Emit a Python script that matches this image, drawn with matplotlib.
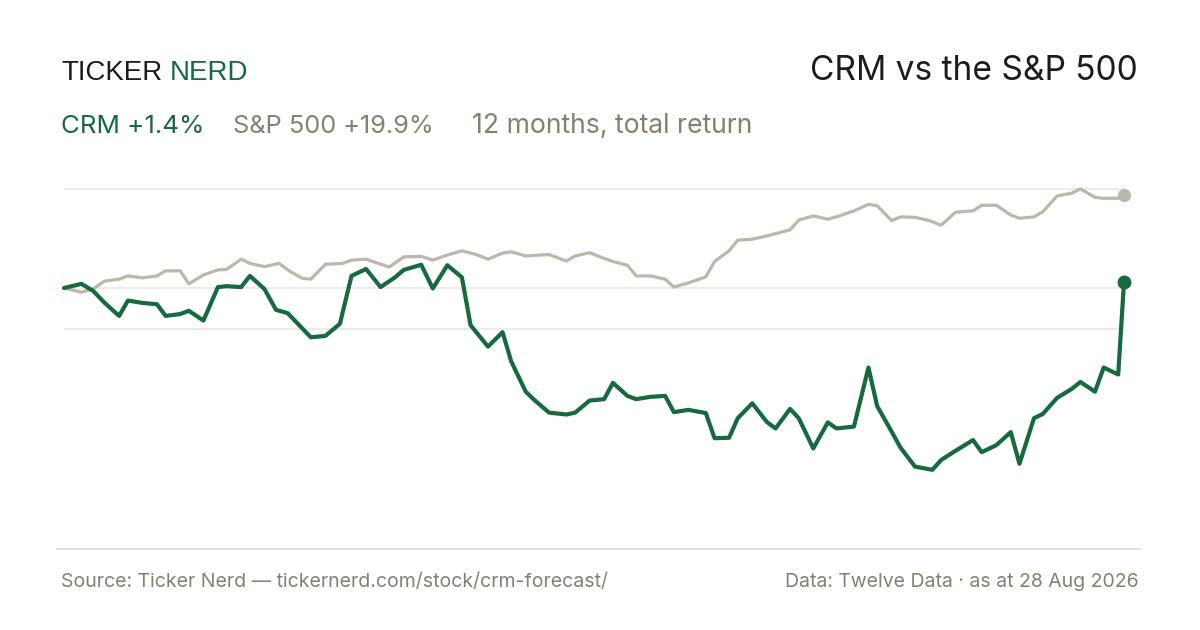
import matplotlib
matplotlib.use("Agg")
import matplotlib.pyplot as plt

# ---- data (day offset within the 12-month window, total return %) ----
crm_days = [0, 6, 10, 14, 19, 22, 27, 32, 35, 40, 43, 48, 53, 56, 61, 64, 69, 73, 77, 81,
            85, 90, 95, 99, 104, 109, 114, 117, 123, 127, 132, 137, 140, 146, 151, 154, 159,
            162, 167, 173, 176, 181, 186, 189, 194, 197, 202, 207, 210, 215, 221, 224, 229,
            232, 237, 242, 245, 250, 253, 258, 263, 266, 272, 277, 280, 285, 288, 293, 299,
            302, 307, 313, 316, 321, 326, 329, 334, 337, 342, 347, 350, 355, 358, 363, 365]
crm_ret = [0.0, 0.9, -0.6, -3.2, -6.0, -2.7, -3.2, -3.5, -6.0, -5.6, -4.9, -7.0, 0.2, 0.4,
           0.2, 2.6, -0.2, -4.7, -5.4, -8.0, -10.6, -10.3, -7.7, 2.6, 4.1, 0.2, 2.3, 3.9,
           5.0, -0.1, 4.9, 2.3, -8.0, -12.6, -9.5, -15.8, -22.3, -24.1, -26.8, -27.2, -26.8,
           -24.2, -23.9, -20.4, -23.2, -23.9, -23.4, -23.2, -26.7, -26.2, -26.9, -32.3,
           -32.2, -28.0, -24.8, -28.8, -30.2, -26.0, -28.0, -34.5, -28.9, -30.2, -29.8,
           -17.1, -25.4, -30.9, -34.3, -38.4, -39.1, -37.0, -35.0, -32.7, -35.3, -33.8,
           -31.0, -37.8, -28.0, -27.1, -23.6, -21.7, -20.2, -22.3, -17.1, -18.6, 1.4]

spx_days = [0, 6, 10, 14, 19, 22, 27, 32, 35, 40, 43, 48, 53, 56, 61, 64, 69, 74, 78, 82,
            85, 90, 96, 99, 104, 112, 117, 123, 127, 132, 137, 142, 146, 151, 154, 159, 167,
            173, 176, 181, 185, 189, 194, 197, 202, 207, 210, 215, 221, 224, 229, 232, 237,
            242, 250, 253, 258, 263, 267, 272, 277, 280, 285, 288, 293, 298, 302, 307, 313,
            316, 321, 326, 329, 334, 337, 342, 347, 350, 355, 358, 363, 365]
spx_ret = [0.0, -0.9, -0.2, 1.5, 1.9, 2.6, 2.2, 2.6, 3.7, 3.7, 0.9, 2.8, 3.9, 4.0, 6.2, 5.3,
           4.6, 5.3, 3.5, 2.1, 1.9, 5.1, 5.3, 6.0, 6.2, 4.5, 6.7, 6.8, 6.0, 7.1, 8.0, 7.2,
           6.2, 7.5, 7.8, 6.9, 7.2, 5.8, 6.9, 7.6, 6.6, 5.7, 4.9, 2.6, 2.6, 1.9, 0.2, 1.1,
           2.4, 5.7, 8.0, 10.3, 10.5, 11.2, 12.5, 14.6, 15.5, 14.8, 15.5, 16.6, 18.0, 17.7,
           14.5, 15.3, 15.2, 14.5, 13.5, 16.3, 16.6, 17.8, 17.8, 15.7, 15.0, 15.3, 16.4,
           19.8, 20.4, 21.3, 19.5, 19.3, 19.3, 19.9]

grid_levels = [21.3, 0.0, -8.8]

title = "CRM vs the S&P 500"
brand_a, brand_b = "TICKER", "NERD"
sub_crm = "CRM +1.4%"
sub_spx = "S&P 500 +19.9%"
sub_note = "12 months, total return"
src_left = "Source: Ticker Nerd \u2014 tickernerd.com/stock/crm-forecast/"
src_right = "Data: Twelve Data \u00b7 as at 28 Aug 2026"

# ---- style ----
GREEN = "#17693f"
GREY_LINE = "#bdb6ab"
GREY_TEXT = "#858072"
DARK = "#1c1c1c"
GRID = "#ebe7e0"
RULE = "#e2ddd3"
FAM = ["Inter", "Liberation Sans", "DejaVu Sans"]

plt.rcParams["font.family"] = FAM

W, H = 1200, 630
fig = plt.figure(figsize=(12, 6.3), dpi=100, facecolor="white")
renderer = fig.canvas.get_renderer()

def fy(py):
    return 1 - py / H

def fit_text(x_px, base_px, s, width_px, size, ha="left", **kw):
    t = fig.text(x_px / W, fy(base_px), s, fontsize=size, va="baseline", ha=ha, **kw)
    w = t.get_window_extent(renderer=renderer).width
    t.set_fontsize(size * width_px / w)
    return t

ax = fig.add_axes([57 / W, fy(548.5), 1083 / W, (548.5 - 170) / H])
ax.set_facecolor("white")
ax.set_xlim(-2.41, 370.5)
ax.set_ylim(-56.02, 25.38)
for s in ["top", "left", "right"]:
    ax.spines[s].set_visible(False)
ax.spines["bottom"].set_color(RULE)
ax.spines["bottom"].set_linewidth(1.3)
ax.set_xticks([])
ax.set_yticks([])

ax.hlines(grid_levels, 0, 365, colors=GRID, linewidth=1.2, zorder=1)

ax.plot(spx_days, spx_ret, color=GREY_LINE, lw=2.3, solid_joinstyle="round",
        solid_capstyle="round", zorder=2)
ax.plot(crm_days, crm_ret, color=GREEN, lw=3.0, solid_joinstyle="round",
        solid_capstyle="round", zorder=3)
ax.plot([spx_days[-1]], [spx_ret[-1]], "o", color=GREY_LINE, ms=8.5, zorder=4)
ax.plot([crm_days[-1]], [crm_ret[-1]], "o", color=GREEN, ms=9, zorder=5)

# ---- header ----
fit_text(61, 80, brand_a, 101, 19, color=DARK, family=["Liberation Sans", "DejaVu Sans"])
fit_text(169.5, 80, brand_b, 78.5, 19, color=GREEN, family=["Liberation Sans", "DejaVu Sans"])
fit_text(1138, 79.5, title, 328, 24, ha="right", color=DARK)

t_spx = fit_text(233, 133, sub_spx, 201, 18, color=GREY_TEXT)
t_note = fit_text(472, 133, sub_note, 280, 18, color=GREY_TEXT)
sub_size = (t_spx.get_fontsize() + t_note.get_fontsize()) / 2
fig.text(61 / W, fy(133), sub_crm, fontsize=sub_size, va="baseline", ha="left", color=GREEN)

# ---- footer ----
fit_text(61, 587, src_left, 545, 13, color=GREY_TEXT)
fit_text(1139, 587, src_right, 353, 13, ha="right", color=GREY_TEXT)

fig.savefig("out.png", dpi=100, facecolor="white")
